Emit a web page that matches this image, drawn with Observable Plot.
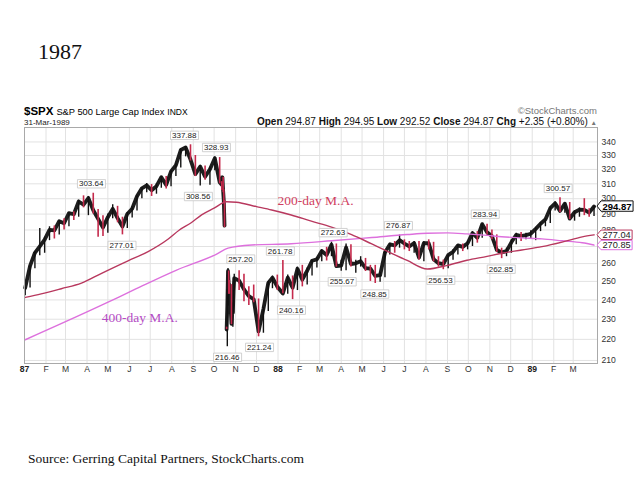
<!DOCTYPE html>
<html><head><meta charset="utf-8">
<script src="https://cdn.jsdelivr.net/npm/d3@7"></script>
<script src="https://cdn.jsdelivr.net/npm/@observablehq/plot@0.6"></script>
<style>
html,body{margin:0;padding:0;background:#fff;}
#wrap{position:relative;width:640px;height:480px;overflow:hidden;}
#wrap svg{position:absolute;left:0;top:0;}
</style></head>
<body><div id="wrap"></div>
<script>
// ---------------- data ----------------
const priceDates = [
"1987-01-02","1987-01-09","1987-01-16","1987-01-23","1987-01-30","1987-02-06","1987-02-13","1987-02-20","1987-02-27",
"1987-03-06","1987-03-13","1987-03-20","1987-03-27","1987-04-03","1987-04-10","1987-04-17","1987-04-24","1987-05-01",
"1987-05-08","1987-05-15","1987-05-22","1987-05-29","1987-06-05","1987-06-12","1987-06-19","1987-06-26","1987-07-03",
"1987-07-10","1987-07-17","1987-07-24","1987-07-31","1987-08-07","1987-08-14","1987-08-21","1987-08-28","1987-09-04",
"1987-09-11","1987-09-18","1987-09-25","1987-10-02","1987-10-09",
"1987-10-12","1987-10-13","1987-10-14","1987-10-15","1987-10-16","1987-10-19","1987-10-20","1987-10-21","1987-10-22",
"1987-10-23","1987-10-26","1987-10-27","1987-10-28","1987-10-29","1987-10-30",
"1987-11-06","1987-11-13","1987-11-20","1987-11-27","1987-12-04","1987-12-11","1987-12-18","1987-12-24","1987-12-31",
"1988-01-08","1988-01-15","1988-01-22","1988-01-29","1988-02-05","1988-02-12","1988-02-19","1988-02-26","1988-03-04",
"1988-03-11","1988-03-18","1988-03-25","1988-04-01","1988-04-08","1988-04-15","1988-04-22","1988-04-29","1988-05-06",
"1988-05-13","1988-05-20","1988-05-27","1988-06-03","1988-06-10","1988-06-17","1988-06-24","1988-07-01","1988-07-08",
"1988-07-15","1988-07-22","1988-07-29","1988-08-05","1988-08-12","1988-08-19","1988-08-26","1988-09-02","1988-09-09",
"1988-09-16","1988-09-23","1988-09-30","1988-10-07","1988-10-14","1988-10-21","1988-10-28","1988-11-04","1988-11-11",
"1988-11-18","1988-11-25","1988-12-02","1988-12-09","1988-12-16","1988-12-23","1988-12-30",
"1989-01-06","1989-01-13","1989-01-20","1989-01-27","1989-02-03","1989-02-10","1989-02-17","1989-02-24","1989-03-03",
"1989-03-10","1989-03-17","1989-03-24","1989-03-31"];
const priceHigh = [
246.5,258.7,267.0,281.0,275.5,282.0,282.5,286.0,287.0,
291.0,291.5,299.0,301.9,301.5,303.64,293.0,289.0,290.0,
296.0,295.0,288.0,291.0,294.5,302.0,307.5,310.3,309.5,
310.0,315.0,315.0,319.0,324.0,334.6,336.5,337.88,330.0,
323.0,322.5,321.5,328.93,328.5,
311.5,314.9,314.5,306.0,298.9,226.0,245.6,257.2,255.8,
250.5,248.2,237.8,238.5,245.0,254.0,
256.0,254.0,247.0,248.0,240.5,236.0,250.0,253.0,253.5,
261.78,253.5,253.0,258.0,259.0,257.5,262.0,263.5,268.0,
269.5,272.63,271.5,262.0,271.5,271.0,262.0,264.0,263.0,
259.0,259.0,255.0,267.0,272.0,273.0,276.87,274.0,273.0,
273.0,273.0,273.0,274.0,272.5,264.0,262.0,265.0,268.0,
271.0,271.5,273.0,279.0,279.0,283.94,283.5,280.0,277.0,
269.0,269.0,274.0,278.0,278.5,278.0,279.5,
281.5,284.5,287.0,294.5,298.0,300.57,297.0,297.5,292.0,
294.0,300.0,293.5,294.95];
const priceLow = [
242.2,246.4,257.0,264.5,266.0,273.5,274.5,277.0,280.0,
282.0,286.0,288.0,294.0,289.0,290.0,275.5,276.0,278.0,
287.0,284.5,277.01,281.0,287.5,292.0,300.0,304.0,301.5,
303.0,307.0,306.5,308.0,315.0,321.0,329.0,326.0,315.0,
308.56,312.5,309.0,319.0,310.0,
305.5,309.0,304.0,297.0,281.5,224.8,216.46,236.8,242.99,
242.99,227.26,227.7,226.0,233.2,244.8,
245.0,239.0,237.0,238.5,221.24,223.0,234.0,246.0,245.0,
243.3,243.0,240.16,245.0,247.0,248.0,253.0,257.5,261.0,
261.5,264.0,258.0,255.67,256.0,258.0,254.5,258.0,255.5,
250.0,248.85,249.5,252.0,265.0,266.0,269.0,268.0,267.0,
266.0,262.0,261.0,268.0,261.0,258.0,256.53,257.0,262.0,
265.0,267.0,268.0,270.0,272.0,275.0,277.0,274.0,266.5,
262.85,264.0,266.0,271.0,273.0,274.0,274.5,
273.5,279.0,282.0,284.0,292.0,291.0,290.5,286.5,285.5,
288.0,289.0,288.0,288.5];
const priceClose = [
246.45,258.73,266.28,270.10,274.08,280.04,279.70,285.48,284.20,
290.66,289.89,298.17,296.13,300.41,292.49,286.91,281.52,288.03,
293.37,287.43,282.16,290.10,293.45,301.62,306.97,308.94,305.63,
308.37,314.59,309.27,318.66,323.00,333.99,335.90,327.04,316.70,
321.98,314.86,320.16,328.07,311.07,
309.39,314.52,305.23,298.08,282.70,224.84,236.83,255.80,248.25,
248.22,227.67,233.19,233.28,244.77,251.79,
250.41,245.64,242.00,240.34,223.92,235.32,249.16,252.03,247.08,
243.40,252.05,246.50,257.07,250.96,255.95,261.61,262.46,267.30,
264.94,271.12,258.51,258.89,269.43,259.77,260.14,261.33,257.48,
257.19,253.02,253.42,266.45,271.26,270.68,273.78,271.78,270.02,
272.05,263.50,272.02,271.93,262.55,260.24,259.68,264.88,266.84,
270.65,269.76,271.91,278.07,275.22,283.66,278.53,276.31,267.92,
266.47,267.23,272.49,277.03,276.29,276.87,277.72,
280.67,283.87,286.63,293.82,296.97,292.02,296.76,287.13,291.18,
292.88,292.69,290.91,294.87];
const previousClose1986 = 242.17;
const crashGapAfter = "1987-10-16";

const ma200Dates = ["1987-01-02","1987-01-25","1987-02-23","1987-03-24","1987-04-22","1987-05-30","1987-06-28","1987-07-27",
"1987-08-12","1987-08-29","1987-09-13","1987-10-01","1987-10-19","1987-11-02","1987-12-01","1987-12-23","1988-01-20",
"1988-02-18","1988-03-18","1988-04-16","1988-05-15","1988-06-06","1988-07-05","1988-08-03","1988-09-01","1988-09-29",
"1988-10-28","1988-11-18","1988-12-17","1989-01-15","1989-02-13","1989-03-14","1989-03-31"];
const ma200Values = [241.3,243.2,246.0,249.0,254.5,261.6,267.0,274.5,
280.0,284.5,289.5,293.8,298.0,297.7,294.8,292.6,289.4,
285.5,281.8,277.2,271.5,267.2,261.8,256.9,259.0,261.9,
264.2,266.0,267.9,269.9,272.6,275.8,277.04];

const ma400Dates = ["1987-01-02","1987-04-22","1987-06-11","1987-08-08","1987-10-04","1987-10-21","1987-11-24","1988-01-20",
"1988-03-18","1988-05-15","1988-07-05","1988-08-03","1988-09-01","1988-09-29","1988-10-28","1988-11-18","1988-12-17",
"1989-01-15","1989-02-13","1989-03-14","1989-03-31"];
const ma400Values = [219.8,237.2,246.0,256.3,265.4,269.0,270.9,271.6,
273.4,275.4,277.2,278.0,278.2,277.6,276.7,275.9,275.2,
274.6,273.4,272.2,270.85];

const yTicks = [210,220,230,240,250,260,270,280,290,300,310,320,330,340];
const xTickDates = ["1987-01-01","1987-02-01","1987-03-01","1987-04-01","1987-05-01","1987-06-01","1987-07-01","1987-08-01",
"1987-09-01","1987-10-01","1987-11-01","1987-12-01","1988-01-01","1988-02-01","1988-03-01","1988-04-01","1988-05-01",
"1988-06-01","1988-07-01","1988-08-01","1988-09-01","1988-10-01","1988-11-01","1988-12-01","1989-01-01","1989-02-01","1989-03-01"];
const xTickLabels = ["87","F","M","A","M","J","J","A","S","O","N","D","88","F","M","A","M","J","J","A","S","O","N","D","89","F","M"];

const peakDates = ["1987-04-07","1987-05-21","1987-08-19","1987-09-08","1987-10-04","1987-10-20","1987-11-08","1987-12-05",
"1988-01-04","1988-01-20","1988-03-20","1988-04-02","1988-05-19","1988-06-22","1988-08-22","1988-10-25","1988-11-17","1989-02-07"];
const peakValues = [303.64,277.01,337.88,308.56,328.93,216.46,257.20,221.24,261.78,240.16,272.63,255.67,248.85,276.87,256.53,283.94,262.85,300.57];
const peakSides = ["above","below","above","below","above","below","above","below","above","below","above","below","below","above","below","above","below","above"];

const maNoteTexts = ["200-day M.A.","400-day M.A."];
const maNoteDates = ["1988-02-24","1987-06-16"];
const maNoteValues = [298.9,231.0];

const lastLabels = ["294.87","277.04","270.85"];
const lastValues = [294.87,277.04,270.85];

// ---------------- build ----------------
const P = d3.utcParse("%Y-%m-%d");
const gapDate = P(crashGapAfter);
const prices = priceDates.map((d,i) => ({
  date: P(d), high: priceHigh[i], low: priceLow[i], close: priceClose[i],
  down: priceClose[i] < (i ? priceClose[i-1] : previousClose1986),
  segment: P(d) > gapDate ? 1 : 0
}));
const ma200 = ma200Dates.map((d,i) => ({date: P(d), value: ma200Values[i]}));
const ma400 = ma400Dates.map((d,i) => ({date: P(d), value: ma400Values[i]}));
const xTicks = xTickDates.map((d,i) => ({date: P(d), label: xTickLabels[i], year: /\d/.test(xTickLabels[i])}));
const peaks = peakDates.map((d,i) => ({date: P(d), value: peakValues[i], side: peakSides[i], text: peakValues[i].toFixed(2)}));
const maNotes = maNoteTexts.map((t,i) => ({text: t, date: P(maNoteDates[i]), value: maNoteValues[i]}));
const lasts = lastLabels.map((t,i) => ({text: t, value: lastValues[i]}));

const SANS = "Liberation Sans, Arial, sans-serif";
const SERIF = "Liberation Serif, Times New Roman, serif";
const RED = "#c52a4c";
const C200 = "#b8385e";
const C400 = "#dd70dd";

const chart = Plot.plot({
  width: 640, height: 480,
  marginTop: 127, marginBottom: 117, marginLeft: 24, marginRight: 43,
  style: {background: "white", fontFamily: SANS, overflow: "visible"},
  x: {type: "utc", domain: [P("1987-01-01"), P("1989-04-05")], axis: null},
  y: {type: "log", domain: [208.6, 351], axis: null},
  marks: [
    Plot.ruleY(yTicks, {y: d => d, stroke: "#e2e2e2"}),
    Plot.ruleX(xTicks, {x: "date", stroke: "#e2e2e2"}),
    Plot.line(prices, {x: "date", y: "close", z: "segment", stroke: "#1d1d1d", strokeWidth: 3.8, curve: "linear"}),
    Plot.ruleX(prices.filter(d => !d.down), {x: "date", y1: "low", y2: "high", stroke: "#111", strokeWidth: 1.4}),
    Plot.ruleX(prices.filter(d => d.down), {x: "date", y1: "low", y2: "high", stroke: RED, strokeWidth: 1.6}),
    Plot.line(ma400, {x: "date", y: "value", stroke: C400, strokeWidth: 1.4, curve: "monotone-x"}),
    Plot.line(ma200, {x: "date", y: "value", stroke: C200, strokeWidth: 1.4, curve: "monotone-x"}),
    Plot.frame({stroke: "#a9a9a9"}),
    Plot.text(yTicks, {y: d => d, text: d => String(d), frameAnchor: "right", dx: 4, textAnchor: "start", fontSize: 8.6, fill: "#333"}),
    Plot.text(xTicks.filter(d => d.year), {x: "date", text: "label", frameAnchor: "bottom", dy: 8, fontSize: 8.6, fontWeight: "bold", fill: "#222"}),
    Plot.text(xTicks.filter(d => !d.year), {x: "date", text: "label", frameAnchor: "bottom", dy: 8, fontSize: 8.6, fill: "#333"}),
    Plot.text(peaks.filter(d => d.side === "above"), {x: "date", y: "value", text: "text", dy: -9.5, fontSize: 8, fill: "#222"}),
    Plot.text(peaks.filter(d => d.side === "below"), {x: "date", y: "value", text: "text", dy: 10.5, fontSize: 8, fill: "#222"}),
    Plot.text(maNotes.slice(0,1), {x: "date", y: "value", text: "text", fontFamily: SERIF, fontSize: 13.5, fill: "#d04060"}),
    Plot.text(maNotes.slice(1,2), {x: "date", y: "value", text: "text", fontFamily: SERIF, fontSize: 13.5, fill: "#b44cc4"}),
    Plot.text(lasts.slice(0,1), {y: "value", text: "text", frameAnchor: "right", dx: 5, textAnchor: "start", fontSize: 9.5, fontWeight: "bold", fill: "#000"}),
    Plot.text(lasts.slice(1), {y: "value", text: "text", frameAnchor: "right", dx: 5, textAnchor: "start", fontSize: 9.2, fill: "#222"})
  ]
});
document.getElementById("wrap").appendChild(chart);

// boxes behind labels (same transform as the text they frame)
const boxSpec = new Map();
peaks.forEach(p => boxSpec.set(p.text, {stroke: "#c6c6c6", notch: 0, w: 0.8}));
boxSpec.set(lastLabels[0], {stroke: "#111", notch: 4, w: 1});
boxSpec.set(lastLabels[1], {stroke: C200, notch: 4, w: 1});
boxSpec.set(lastLabels[2], {stroke: C400, notch: 4, w: 1});
chart.querySelectorAll("text").forEach(t => {
  const s = boxSpec.get(t.textContent.trim());
  if (!s) return;
  const b = t.getBBox();
  const x0 = b.x - 1.5, x1 = b.x + b.width + 1.5, y0 = b.y + 0.3, y1 = b.y + b.height - 0.3;
  const p = document.createElementNS("http://www.w3.org/2000/svg", "path");
  const cy = (y0 + y1) / 2;
  const dpath = s.notch
    ? `M${x0 - s.notch},${cy}L${x0},${y0}L${x1},${y0}L${x1},${y1}L${x0},${y1}Z`
    : `M${x0},${y0}L${x1},${y0}L${x1},${y1}L${x0},${y1}Z`;
  p.setAttribute("d", dpath);
  p.setAttribute("fill", "white");
  p.setAttribute("stroke", s.stroke);
  p.setAttribute("stroke-width", s.w);
  const tr = t.getAttribute("transform");
  if (tr) p.setAttribute("transform", tr);
  t.parentNode.insertBefore(p, t);
});

// header and footer text
const svg = d3.select(chart);
svg.append("text").attr("x", 38).attr("y", 59).attr("text-anchor", "start").attr("font-family", SERIF).attr("font-size", 22).attr("fill", "#111").text("1987");
const h = svg.append("text").attr("x", 24).attr("y", 115).attr("text-anchor", "start").attr("font-family", SANS).attr("fill", "#000");
h.append("tspan").attr("font-size", 11.5).attr("font-weight", "bold").text("$SPX");
h.append("tspan").attr("font-size", 9.3).attr("dx", 3).text("S&P 500 Large Cap Index");
h.append("tspan").attr("font-size", 8.5).attr("dx", 3).text("INDX");
svg.append("text").attr("x", 24).attr("y", 125).attr("text-anchor", "start").attr("font-family", SANS).attr("font-size", 8).attr("fill", "#222").text("31-Mar-1989");
svg.append("text").attr("x", 597).attr("y", 114).attr("text-anchor", "end").attr("font-family", SANS).attr("font-size", 9.5).attr("fill", "#777").text("©StockCharts.com");
const o = svg.append("text").attr("x", 597).attr("y", 125).attr("text-anchor", "end").attr("font-family", SANS).attr("font-size", 10).attr("fill", "#111");
const parts = [["Open",true],[" 294.87 ",false],["High",true],[" 294.95 ",false],["Low",true],[" 292.52 ",false],["Close",true],[" 294.87 ",false],["Chg",true],[" +2.35 (+0.80%) ",false]];
parts.forEach(([t,b]) => o.append("tspan").attr("font-weight", b ? "bold" : "normal").attr("xml:space","preserve").text(t));
o.append("tspan").attr("font-size", 6.5).attr("fill", "#777").text("▲");
svg.append("text").attr("x", 28).attr("y", 463).attr("text-anchor", "start").attr("font-family", SERIF).attr("font-size", 13.5).attr("fill", "#111").text("Source: Gerring Capital Partners, StockCharts.com");
</script>
</body></html>
